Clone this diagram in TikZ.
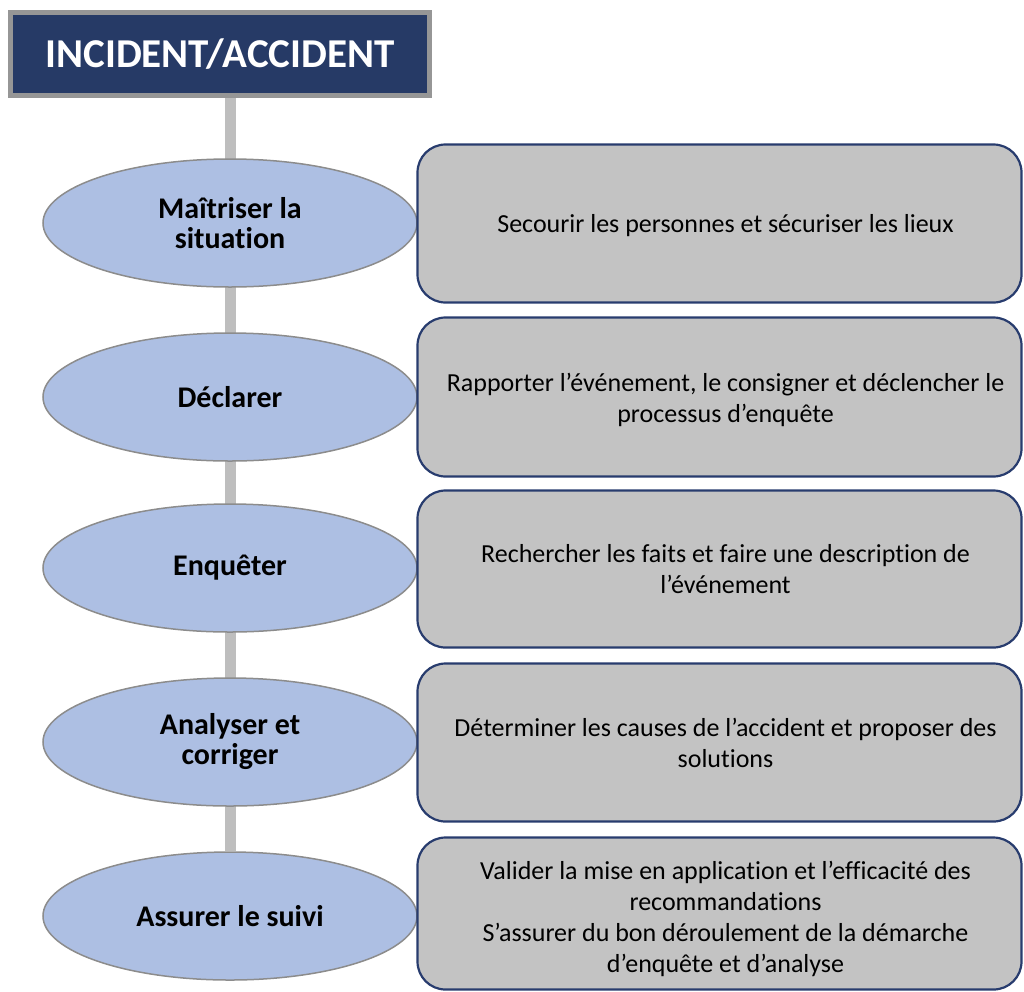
\documentclass[tikz,border=0pt]{standalone}
\usepackage{fontspec}
\setmainfont{Carlito}[Ligatures=NoCommon]
\usepackage{tikz}
\usepackage{xcolor}
\usetikzlibrary{shapes.geometric,backgrounds}
\definecolor{titlenavy}{RGB}{38,58,102}
\definecolor{titlegray}{RGB}{150,150,150}
\definecolor{stepblue}{RGB}{173,191,227}
\definecolor{stepedge}{RGB}{140,140,140}
\definecolor{boxgray}{RGB}{195,195,195}
\definecolor{boxnavy}{RGB}{40,60,110}
\definecolor{bargray}{RGB}{190,190,190}

\begin{document}
\begin{tikzpicture}[x=1pt,y=1pt,
    titlebox/.style={rectangle,fill=titlenavy,draw=titlegray,line width=5pt,
        minimum width=419pt,minimum height=83pt,text=white,
        font=\fontsize{41}{46}\selectfont\bfseries},
    phase/.style={ellipse,fill=stepblue,draw=stepedge,line width=1.5pt,
        minimum width=374pt,minimum height=128pt,inner sep=0pt,align=center,
        font=\fontsize{30}{30}\selectfont\bfseries},
    action/.style={rectangle,rounded corners=28pt,fill=boxgray,draw=boxnavy,
        line width=2.2pt,minimum width=604pt,inner sep=0pt},
    actiontext/.style={align=center,inner sep=0pt,
        font=\fontsize{26}{31}\selectfont}]
    \useasboundingbox (0,0) rectangle (1024,-991);

    % Title
    \node[titlebox] (title) at (220,-54) {INCIDENT/ACCIDENT};

    % Steps on the left
    \node[phase] (p1) at (230,-223) {Maîtriser la\\situation};
    \node[phase] (p2) at (230,-397) {Déclarer};
    \node[phase] (p3) at (230,-568) {Enquêter};
    \node[phase] (p4) at (230,-742) {Analyser et\\corriger};
    \node[phase] (p5) at (230,-916) {Assurer le suivi};

    % Actions on the right
    \node[action,minimum height=158pt] (a1) at (719.5,-223.5) {};
    \node[action,minimum height=159pt] (a2) at (719.5,-397) {};
    \node[action,minimum height=157pt] (a3) at (719.5,-569) {};
    \node[action,minimum height=158pt] (a4) at (719.5,-742.5) {};
    \node[action,minimum height=152pt] (a5) at (719.5,-913.5) {};

    \node[actiontext] (t1) at ([xshift=6pt,yshift=-2pt]a1.center)
        {Secourir les personnes et sécuriser les lieux};
    \node[actiontext] (t2) at ([xshift=6pt,yshift=-3pt]a2.center)
        {Rapporter l’événement, le consigner et déclencher le\\processus d’enquête};
    \node[actiontext] (t3) at ([xshift=6pt]a3.center)
        {Rechercher les faits et faire une description de\\l’événement};
    \node[actiontext] (t4) at ([xshift=6pt]a4.center)
        {Déterminer les causes de l’accident et proposer des\\solutions};
    \node[actiontext] (t5) at ([xshift=6pt,yshift=-5pt]a5.center)
        {Valider la mise en application et l’efficacité des\\recommandations\\S’assurer du bon déroulement de la démarche\\d’enquête et d’analyse};

    % Spine
    \begin{scope}[on background layer]
        \draw[bargray,line width=11pt] (p1 |- title.south) -- (p5.north);
    \end{scope}
\end{tikzpicture}
\end{document}
